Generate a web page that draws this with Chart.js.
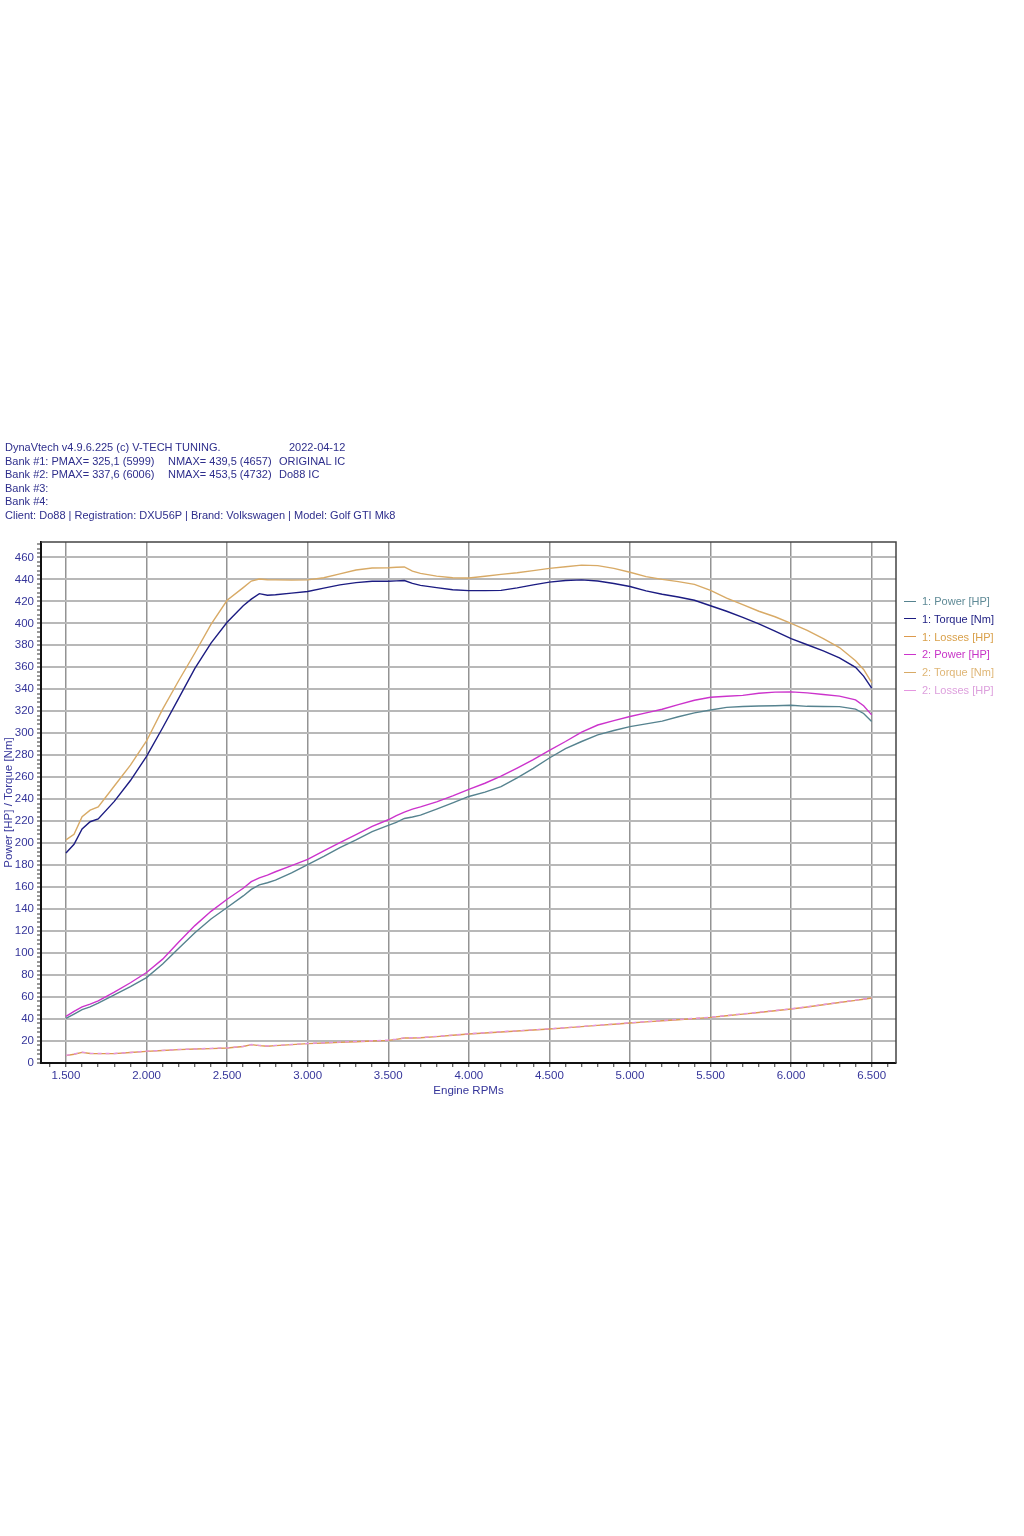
<!DOCTYPE html>
<html>
<head>
<meta charset="utf-8">
<script src="https://cdn.jsdelivr.net/npm/chart.js@4/dist/chart.umd.min.js"></script>
<style>
html,body{margin:0;padding:0;background:#fff;}
#wrap{position:relative;width:1024px;height:1536px;overflow:hidden;background:#fff;}
#c{position:absolute;left:0;top:0;}
.t{position:absolute;font:11px "Liberation Sans",Arial,sans-serif;color:#2e2e8c;white-space:pre;line-height:13px;}
.lg{position:absolute;left:904px;font:11px "Liberation Sans",Arial,sans-serif;white-space:pre;line-height:14px;}
.lg i{display:inline-block;width:12px;height:0;border-top:1.5px solid;vertical-align:middle;margin-right:6px;position:relative;top:-1px;}
</style>
</head>
<body>
<div id="wrap">
<canvas id="c" width="1024" height="1536"></canvas>
<div id="hdr"></div>
<div id="legend"></div>
</div>
<script>
// ---- data ----
const rpm = [1500,1550,1600,1650,1700,1800,1900,2000,2100,2200,2300,2400,2500,2600,2650,2700,2750,2800,2900,3000,3100,3200,3300,3400,3500,3550,3600,3650,3700,3800,3900,4000,4100,4200,4300,4400,4500,4600,4700,4800,4900,5000,5100,5200,5300,5400,5500,5600,5700,5800,5900,6000,6100,6200,6300,6400,6450,6500];
const power1 = [40.6,44.5,48.5,51,54.5,62,69.5,77.7,90,104.5,118.5,131,141.5,152,158,162,164,166.3,173,180.5,188,196,203,210.5,216.2,219,222.5,223.8,225.5,231,236.7,242.5,246.5,251.5,259.5,268,277.5,286,292.5,298.5,302.5,306,308.5,311,315,318.5,321.2,323.5,324.4,324.8,325,325.5,324.5,324.4,324.2,322,318,310.6];
const torque1 = [191,199,213,219.5,222,238,257,279,305,332,359,382,401,416,422,427,425.5,426,427.5,429,432,435,437,438.3,438.3,438.6,439,436.3,434.5,432.5,430.5,429.8,429.8,430,432.3,435,437.5,439,439.5,438.5,436.2,433.5,429.5,426.5,424,421,416,411,405.5,399.5,393,386,380.5,375,368.5,360,352,341];
const losses1 = [6.7,8,9.7,8.7,8.5,8.5,9.5,10.6,11.4,12.2,12.7,13.1,13.6,15,16.7,15.8,15.3,15.8,16.7,17.6,18.2,18.8,19.4,20,20.6,21.5,22.7,22.8,23,24,25.2,26.4,27.3,28.2,29.1,30,30.9,32,33.1,34.2,35.3,36.4,37.4,38.4,39.4,40.4,41.5,43,44.5,46,47.5,49.1,51,53,55,57,58,59.1];
const power2 = [42.5,47,51,53.5,56.5,64.5,73,82.3,94.5,110,125,138,149,159,165,168.5,171,174,179.5,185.3,193,200.5,207.8,215.3,221.3,225,228.3,231,233,237.5,243,249,254.5,261,268.3,276,284.5,292.5,301,307.5,311.5,315.2,318.5,321.8,326,330,332.7,333.7,334.5,336.4,337.4,337.6,336.7,335.2,333.8,330.4,325,316.7];
const torque2 = [203,208,224,230,233,252,271,293,322,348,373,399,421,432.5,438.5,440.3,439.6,439.5,439.3,439.5,441.5,445,448.5,450.4,450.6,451,451.3,447.5,445.5,443,441.5,441.3,442.8,444.5,446,448,450,451.5,453,452.5,450,446.5,442.5,440,438,435.5,430,423,417,411,406,400,393.5,386,378,366,358,346];
const losses2 = [6.9,8.2,9.8,8.9,8.6,8.7,9.6,10.8,11.5,12.3,12.8,13.3,13.8,15.1,16.8,16,15.5,16,16.8,17.8,18.4,19,19.6,20.2,20.8,21.7,22.9,23,23.2,24.2,25.4,26.6,27.5,28.4,29.3,30.2,31.1,32.2,33.3,34.4,35.5,36.6,37.6,38.6,39.6,40.6,41.7,43.2,44.7,46.2,47.7,49.3,51.2,53.2,55.2,57.2,58.2,59.3];

const seriesNames = ['1: Power [HP]','1: Torque [Nm]','1: Losses [HP]','2: Power [HP]','2: Torque [Nm]','2: Losses [HP]'];
const seriesValues = [power1, torque1, losses1, power2, torque2, losses2];
const seriesColors = ['#56838f','#1c1c82','#dc9a4e','#cc33cc','#d8aa66','#e596e0'];
const legendColors = ['#5f8a96','#1c1c82','#d9a04a','#c733c7','#dfb676','#dda0dd'];

// tick positions (major = labelled)
const xMajorTicks = [1500,2000,2500,3000,3500,4000,4500,5000,5500,6000,6500];
const xMinorStep = 100;
const yMajorStep = 20;
const yMinorStep = 4;

const headerLines = [
  ['DynaVtech v4.9.6.225 (c) V-TECH TUNING.', '', '', '2022-04-12'],
  ['Bank #1: PMAX= 325,1 (5999)', 'NMAX= 439,5 (4657)', 'ORIGINAL IC', ''],
  ['Bank #2: PMAX= 337,6 (6006)', 'NMAX= 453,5 (4732)', 'Do88 IC', ''],
  ['Bank #3:', '', '', ''],
  ['Bank #4:', '', '', ''],
  ['Client: Do88 | Registration: DXU56P | Brand: Volkswagen | Model: Golf GTI Mk8', '', '', '']
];
const xTitle = 'Engine RPMs';
const yTitle = 'Power [HP] / Torque [Nm]';

// ---- header & legend (text) ----
const hdr = document.getElementById('hdr');
const colX = [5, 168, 279, 289];
headerLines.forEach((cols, i) => {
  cols.forEach((txt, j) => {
    if (!txt) return;
    const d = document.createElement('div');
    d.className = 't';
    d.style.left = colX[j] + 'px';
    d.style.top = (441 + i * 13.5) + 'px';
    d.textContent = txt;
    hdr.appendChild(d);
  });
});
const lg = document.getElementById('legend');
seriesNames.forEach((name, i) => {
  const d = document.createElement('div');
  d.className = 'lg';
  d.style.top = (594 + i * 17.8) + 'px';
  d.style.color = legendColors[i];
  const line = document.createElement('i');
  line.style.borderTopColor = seriesColors[i];
  d.appendChild(line);
  d.appendChild(document.createTextNode(name));
  lg.appendChild(d);
});

// ---- chart ----
const fmt = v => { const s = String(Math.round(v)); return s.length > 3 ? s.slice(0, -3) + '.' + s.slice(-3) : s; };
const axisFont = { family: '"Liberation Sans Narrow","Liberation Sans",Arial,sans-serif', size: 11.5 };
const blue = '#35359a';
const isXMajor = v => xMajorTicks.includes(v);

const framePlugin = {
  id: 'frame',
  afterDraw(chart) {
    const { ctx, chartArea: a } = chart;
    ctx.save();
    ctx.strokeStyle = '#444';
    ctx.lineWidth = 1.5;
    ctx.beginPath();
    ctx.moveTo(a.left, a.top); ctx.lineTo(a.right, a.top); ctx.lineTo(a.right, a.bottom);
    ctx.stroke();
    ctx.restore();
  }
};

new Chart(document.getElementById('c'), {
  type: 'line',
  data: {
    datasets: seriesNames.map((name, i) => ({
      label: name,
      data: rpm.map((r, k) => ({ x: r, y: seriesValues[i][k] })),
      borderColor: seriesColors[i],
      backgroundColor: seriesColors[i],
      borderWidth: 1.4,
      borderDash: i === 5 ? [4, 4] : [],
      pointRadius: 0,
      tension: 0,
      fill: false,
      order: i === 5 ? 0 : i + 1
    }))
  },
  options: {
    responsive: false,
    animation: false,
    devicePixelRatio: 1,
    layout: { padding: { top: 542, right: 128, bottom: 434, left: 0 } },
    plugins: { legend: { display: false }, tooltip: { enabled: false }, title: { display: false } },
    scales: {
      x: {
        type: 'linear', min: 1345, max: 6651,
        afterFit(s) { s.height = 39; },
        afterBuildTicks(s) {
          const t = [];
          for (let v = Math.ceil(s.min / xMinorStep) * xMinorStep; v <= s.max; v += xMinorStep) t.push({ value: v });
          s.ticks = t;
        },
        ticks: {
          autoSkip: false, maxRotation: 0, color: blue, font: axisFont, padding: 2,
          callback: v => (isXMajor(v) ? fmt(v) : '')
        },
        grid: {
          color: c => (c.tick && isXMajor(c.tick.value) ? '#939393' : 'rgba(0,0,0,0)'),
          lineWidth: 1.5, tickLength: 4, tickColor: '#333', tickWidth: 1
        },
        border: { color: '#111', width: 2 },
        title: { display: true, text: xTitle, color: blue, font: axisFont, padding: { top: 2, bottom: 4 } }
      },
      y: {
        type: 'linear', min: 0, max: 474,
        afterFit(s) { s.width = 41; },
        afterBuildTicks(s) {
          const t = [];
          for (let v = 0; v <= s.max; v += yMinorStep) t.push({ value: v });
          s.ticks = t;
        },
        ticks: {
          autoSkip: false, color: blue, font: axisFont, padding: 3,
          callback: v => (v % yMajorStep === 0 ? String(v) : '')
        },
        grid: {
          color: c => (c.tick && c.tick.value % yMajorStep === 0 && c.tick.value > 0 ? '#b8b8b8' : 'rgba(0,0,0,0)'),
          lineWidth: 2, tickLength: 4, tickColor: '#333', tickWidth: 1
        },
        border: { color: '#111', width: 2 },
        title: { display: true, text: yTitle, color: blue, font: axisFont, padding: { top: 1.5, bottom: 0 } }
      }
    }
  },
  plugins: [framePlugin]
});
</script>
</body>
</html>
